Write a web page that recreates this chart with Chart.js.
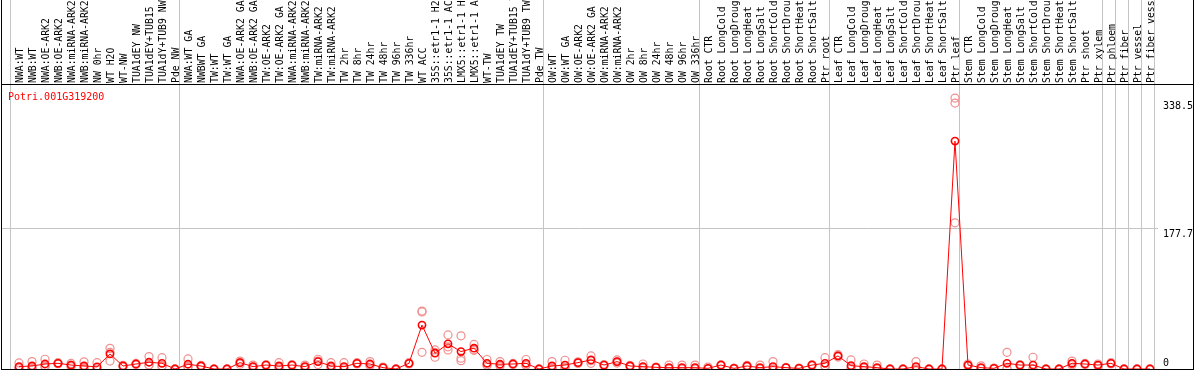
<!DOCTYPE html>
<html>
<head>
<meta charset="utf-8">
<script src="https://cdn.jsdelivr.net/npm/chart.js@4.4.1/dist/chart.umd.min.js"></script>
<style>
html,body{margin:0;padding:0;background:#fff;overflow:hidden}
#wrap{width:1194px;height:370px;position:relative}
canvas{display:block}
</style>
</head>
<body>
<div id="wrap"><canvas id="c" width="1194" height="370"></canvas></div>
<script>
const geneId = 'Potri.001G319200';

const categories = [
  'NWA:WT','NWB:WT','NWA:OE-ARK2','NWB:OE-ARK2','NWA:miRNA-ARK2','NWB:miRNA-ARK2','NW 0hr','WT H2O','WT-NW','TUA1dEY NW',
  'TUA1dEY+TUB15 NW','TUA1dY+TUB9 NW','Pde NW','NWA:WT GA','NWBWT GA','TW:WT','TW:WT GA','NWA:OE-ARK2 GA','NWB:OE-ARK2 GA','TW:OE-ARK2',
  'TW:OE-ARK2 GA','NWA:miRNA-ARK2 GA','NWB:miRNA-ARK2 GA','TW:miRNA-ARK2','TW:miRNA-ARK2 GA','TW 2hr','TW 8hr','TW 24hr','TW 48hr','TW 96hr',
  'TW 336hr','WT ACC','35S::etr1-1 H2O','35S::etr1-1 ACC','LMX5::etr1-1 H2O','LMX5::etr1-1 ACC','WT-TW','TUA1dEY TW','TUA1dEY+TUB15 TW','TUA1dY+TUB9 TW',
  'Pde TW','OW:WT','OW:WT GA','OW:OE-ARK2','OW:OE-ARK2 GA','OW:miRNA-ARK2','OW:miRNA-ARK2 GA','OW 2hr','OW 8hr','OW 24hr',
  'OW 48hr','OW 96hr','OW 336hr','Root CTR','Root LongCold','Root LongDrought','Root LongHeat','Root LongSalt','Root ShortCold','Root ShortDrought',
  'Root ShortHeat','Root ShortSalt','Ptr root','Leaf CTR','Leaf LongCold','Leaf LongDrought','Leaf LongHeat','Leaf LongSalt','Leaf ShortCold','Leaf ShortDrought',
  'Leaf ShortHeat','Leaf ShortSalt','Ptr leaf','Stem CTR','Stem LongCold','Stem LongDrought','Stem LongHeat','Stem LongSalt','Stem ShortCold','Stem ShortDrought',
  'Stem ShortHeat','Stem ShortSalt','Ptr shoot','Ptr xylem','Ptr phloem','Ptr fiber','Ptr vessel','Ptr fiber vessel'
];

const meanValues = [
  3,3.8,6.3,7.2,5,3.8,2.7,19,3.8,6.3,
  8.5,7.2,0,6,3.8,0,0,8,3,5,
  3.8,5,3,9.3,3.8,3,7.2,6.3,1.7,0,
  7.2,55.4,19.9,31.7,22,26.2,7.2,6,6.3,7.2,
  0,3.8,5,8,11.4,5,9.3,3.8,3,2.1,
  1.7,1.7,1.7,0.8,5,0.8,3.8,1.7,3,1.7,
  0.8,5,7.2,16.5,4.2,3,1.7,0,0,3,
  0,0,287.3,5,1.7,0.8,7.2,5,5,0,
  0,7.2,6.3,5,7.2,0,0,0
];

const rep1 = [
  7.6,9.3,12.3,8,7,9,8,26,4.5,7,
  15.6,14.3,0,12.7,4.5,0,0,10,5,5.5,
  8,5.5,5,12.3,8,8,8,9.3,2.5,0,
  8,72,24,43,41.8,31,12,9.3,7,12,
  0,9.3,11,9,16.5,5.5,11.4,4.5,6.3,2.5,
  5,5,5,2.4,5.5,1.2,4.5,5,9.3,2,
  1.2,5.5,14.3,18,11.4,6.3,5,0,0,9.3,
  0,0,341.5,6.3,4,1.2,21,5.5,14.8,0,
  0,10,7,6.3,8,0,0,0
];
const rep2 = [
  1,1.5,4,7,5,1.5,0,21,3.8,6.3,
  5,4,0,3,3.8,0,0,8,2.5,5,
  2,5,2.5,10,2,0.6,7.2,5.5,1.7,0,
  7.2,73,20.9,28,13.7,24,5,5,6.3,5,
  0,1.2,2.5,8,10.5,5,9,3.8,1.5,2.1,
  0.1,0.1,0,0,5,0.8,3.8,0.1,0,1.7,
  0.8,5,4,16.5,1,1.5,0.1,0,0,0,
  0,0,335.2,5,0.6,0.8,0.5,5,0.2,0,
  0,6.5,6.3,5,7.2,0,0,0
];
const rep3 = [
  0.5,0.6,2.6,6.6,3,0.9,0,10,3.1,5.6,
  4.9,3.3,0,2.3,3.1,0,0,6,1.5,4.5,
  1.4,4.5,1.5,5.6,1.4,0.4,6.4,4.1,0.9,0,
  6.4,21,14.8,24,10.5,23.6,4.6,3.7,5.6,4.6,
  0,0.9,1.5,7,7.2,4.5,7.5,3.1,1.2,1.7,
  0,0,0.1,0,4.5,0.4,3.1,0,0,1.4,
  0.4,4.5,3.3,15,0.2,1.2,0,0,0,0,
  0,0,184.3,3.7,0.5,0.4,0.1,4.5,0,0,
  0,5.1,5.6,3.7,6.4,0,0,0
];

const yTicks = [0, 177.7, 338.5];
const groupEnds = [0, 13, 41, 53, 63, 73, 84, 85, 86, 87, 88];

const X_MIN = -0.3846, X_MAX = 88.6154;
const MONO = '"DejaVu Sans Mono", monospace';

const framePlugin = {
  id: 'frame',
  afterDraw(chart) {
    const c = chart.ctx;
    c.save();
    c.strokeStyle = '#000';
    c.lineWidth = 1;
    c.beginPath();
    c.moveTo(1.5, 0); c.lineTo(1.5, 370);
    c.moveTo(1193.5, 0); c.lineTo(1193.5, 370);
    c.moveTo(1, 84.5); c.lineTo(1194, 84.5);
    c.moveTo(1, 369.5); c.lineTo(1194, 369.5);
    c.stroke();
    c.fillStyle = '#ff0000';
    c.font = '10px ' + MONO;
    c.textBaseline = 'middle';
    c.textAlign = 'left';
    c.fillText(geneId, 8, 97.5);
    c.restore();
  }
};

const repPoints = [];
[rep1, rep2, rep3].forEach(arr => arr.forEach((v, i) => repPoints.push({x: i + 1, y: v})));

new Chart(document.getElementById('c'), {
  type: 'line',
  data: {
    datasets: [
      {
        label: geneId,
        xAxisID: 'x', yAxisID: 'y',
        data: meanValues.map((v, i) => ({x: i + 1, y: v})),
        borderColor: '#ff0000',
        borderWidth: 1,
        pointRadius: 3.6,
        pointBorderWidth: 1.6,
        pointBorderColor: '#ff0000',
        pointBackgroundColor: 'rgba(0,0,0,0)',
        tension: 0
      },
      {
        label: 'replicates',
        type: 'scatter',
        xAxisID: 'x', yAxisID: 'y',
        data: repPoints,
        showLine: false,
        pointRadius: 4,
        pointBorderWidth: 1.2,
        pointBorderColor: '#f09090',
        pointBackgroundColor: 'rgba(0,0,0,0)'
      }
    ]
  },
  options: {
    responsive: false,
    animation: false,
    devicePixelRatio: 1,
    layout: {autoPadding: false, padding: {left: 1, right: 0, top: 0, bottom: 1}},
    plugins: {legend: {display: false}, tooltip: {enabled: false}, title: {display: false}},
    scales: {
      x: {
        type: 'linear', position: 'top', weight: 1,
        min: X_MIN, max: X_MAX,
        grid: {display: false, drawTicks: false, tickLength: 0},
        border: {display: false},
        afterBuildTicks: s => { s.ticks = categories.map((c, i) => ({value: i + 1})); },
        afterFit: s => { s.height = 85; s.paddingLeft = 0; s.paddingRight = 0; },
        ticks: {
          autoSkip: false, minRotation: 90, maxRotation: 90, padding: 2,
          labelOffset: 13.5,
          color: '#000',
          font: {family: MONO, size: 9.8},
          callback: v => categories[Math.round(v) - 1]
        }
      },
      xsep: {
        type: 'linear', position: 'top', weight: 0,
        min: X_MIN, max: X_MAX,
        afterBuildTicks: s => { s.ticks = groupEnds.map(g => ({value: g + 5 / 13})); },
        afterFit: s => { s.height = 0; s.paddingLeft = 0; s.paddingRight = 0; },
        ticks: {display: false},
        grid: {color: '#c4c4c4', tickColor: '#c4c4c4', tickLength: 85, drawTicks: true, lineWidth: 1},
        border: {display: false}
      },
      y: {
        type: 'linear', position: 'right',
        min: 0, max: 358,
        afterBuildTicks: s => { s.ticks = yTicks.map(v => ({value: v})); },
        afterFit: s => { s.width = 36; s.paddingTop = 0; s.paddingBottom = 0; },
        grid: {drawTicks: false, color: c => (c.index === 1 ? '#c4c4c4' : 'rgba(0,0,0,0)')},
        border: {display: false},
        ticks: {
          padding: 5, crossAlign: 'near', color: '#000',
          font: {family: MONO, size: 10},
          callback: (v, i) => (i === 0 ? [String(v), ''] : ['', String(v)])
        }
      }
    }
  },
  plugins: [framePlugin]
});
</script>
</body>
</html>
